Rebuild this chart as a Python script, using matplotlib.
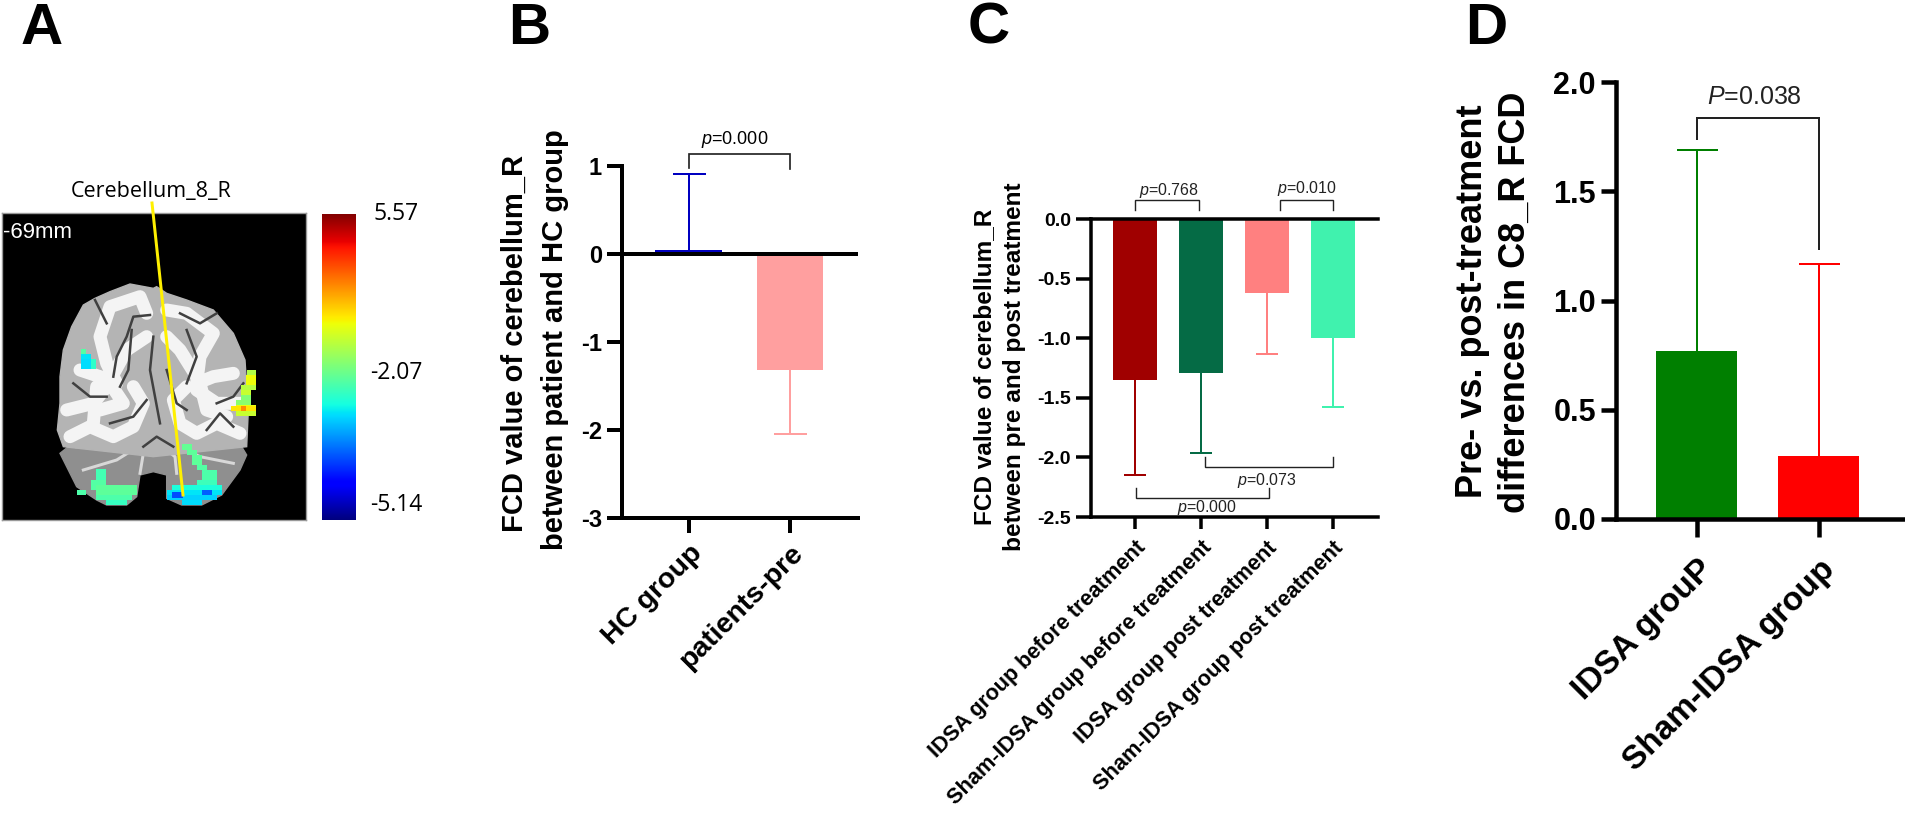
import numpy as np
import matplotlib
matplotlib.use("Agg")
import matplotlib.pyplot as plt
from matplotlib.patches import Polygon, Rectangle

plt.rcParams['font.family'] = ['Liberation Sans', 'DejaVu Sans']
plt.rcParams['mathtext.fontset'] = 'custom'
plt.rcParams['mathtext.rm'] = 'Liberation Sans'
plt.rcParams['mathtext.it'] = 'Liberation Sans:italic'

W, H = 1905, 818

# panel B
b_labels = ["HC group", "patients-pre"]
b_values = [0.04, -1.32]
b_err_ends = [0.91, -2.05]
b_colors = ["#0000C0", "#FF9F9F"]
b_ticks = [1, 0, -1, -2, -3]

# panel C
c_labels = ["IDSA group before treatment", "Sham-IDSA group before treatment",
            "IDSA group post treatment", "Sham-IDSA group post treatment"]
c_values = [-1.35, -1.29, -0.62, -1.00]
c_err_ends = [-2.15, -1.96, -1.13, -1.58]
c_colors = ["#A00000", "#056B45", "#FF8080", "#40F2AE"]
c_ticks = [0.0, -0.5, -1.0, -1.5, -2.0, -2.5]

# panel D
d_labels = ["IDSA grouP", "Sham-IDSA group"]
d_values = [0.77, 0.29]
d_err_ends = [1.69, 1.167]
d_colors = ["#007F00", "#FF0000"]
d_ticks = [0.0, 0.5, 1.0, 1.5, 2.0]

# panel A, colour scale
scale_labels = ["5.57", "-2.07", "-5.14"]
scale_min, scale_max = -5.14, 5.57

# brain shapes (crop px: upper part z6, lower part z9)
cerebrum = [(460,355),(390,342),(330,365),(285,385),(250,405),(215,470),(190,540),(180,620),(180,700),
            (172,780),(190,830),(460,860),(740,830),(745,720),(740,650),(735,570),(700,490),(640,420),
            (560,390),(500,370),(470,350)]
white_lines = [
    [(240,600),(300,620),(350,640),(320,580),(300,500),(330,410),(420,380),(440,430)],
    [(200,720),(280,700),(320,650)],
    [(330,630),(380,540),(440,500)],
    [(210,800),(270,770),(340,800),(400,770),(430,700),(400,650)],
    [(290,650),(280,760)],
    [(330,640),(370,700),(300,720)],
    [(700,610),(640,620),(590,640),(600,560),(640,490),(560,430),(500,420)],
    [(730,700),(650,700),(590,660)],
    [(590,620),(540,540),(500,500)],
    [(720,790),(650,760),(590,790),(540,760),(520,690),(560,650)],
    [(600,640),(620,720),(680,740)],
]
dark_lines = [
    [(285,390),(320,460)],
    [(450,435),(400,440),(380,500),(350,560),(340,620)],
    [(395,480),(385,600),(360,650)],
    [(460,500),(450,600),(480,760)],
    [(220,640),(270,680),(320,680)],
    [(330,760),(400,740),(440,690)],
    [(540,430),(600,460),(650,430)],
    [(560,480),(590,560),(560,640)],
    [(500,600),(530,700),(560,720)],
    [(650,700),(700,680),(730,640)],
    [(620,780),(660,730),(700,770)],
    [(430,830),(470,800),(520,830)],
]
cerebellum = [(190,98),(230,120),(180,160),(190,180),(205,210),(230,260),(290,300),(320,315),(380,315),
              (410,290),(420,225),(460,215),(500,225),(500,295),(545,315),(605,315),(665,285),(720,210),
              (740,165),(710,115),(660,95),(520,60),(400,60)]
cerebellum_light = [
    [(230,140),(330,120),(440,130)],
    [(250,210),(350,180),(430,130)],
    [(660,125),(560,120),(480,130)],
    [(700,190),(600,170),(520,130)],
    [(420,220),(430,160),(480,135),(525,170),(530,220)],
]
# activation cells: crop x0, x1, y0, y1, value
blobs_upper = [
    (242,257,538,553,-0.3),(242,272,553,568,-1.4),(242,287,568,598,-1.5),(272,287,568,598,-0.8),
    (740,768,600,630,0.9),(738,768,615,645,1.7),(723,768,645,660,1.0),(723,752,660,675,1.2),
    (723,752,675,690,0.3),(708,752,690,705,0.4),(708,768,705,720,1.6),(692,768,707,722,2.0),
    (708,768,722,737,1.2),(722,738,707,722,3.0),
]
blobs_lower = [
    (288,318,208,240,-0.5),(272,318,240,270,-0.3),(288,410,255,285,-0.2),(288,395,285,300,-0.4),
    (318,380,300,315,-0.7),(232,258,270,285,-0.4),
    (545,575,133,150,-0.1),(560,590,150,165,-0.2),(575,605,165,195,-0.2),(590,620,195,210,-0.3),
    (605,650,210,240,-0.4),(590,650,240,255,-0.6),(515,665,255,270,-1.0),(500,665,270,285,-1.4),
    (500,650,285,300,-1.6),(545,605,300,315,-1.5),(515,550,275,295,-3.0),(605,635,270,285,-2.8),
]


def ax_px(left, top, right, bottom):
    return fig.add_axes([left / W, 1 - bottom / H, (right - left) / W, (bottom - top) / H])


def px(n):
    return n * 0.72


def z6(pts):
    return [(x / 3, 170 + y / 3) for x, y in pts]


def z9(pts):
    return [(x / 3, 400 + y / 3) for x, y in pts]


def bracket(ax, x0, x1, y, y0_end, y1_end, lw):
    ax.plot([x0, x0, x1, x1], [y0_end, y, y, y1_end], color="#222222", lw=lw, clip_on=False,
            solid_joinstyle="miter", zorder=4)


def bar_panel(ax, values, ends, colors, labels, ticks, ylim, xlim, width, tick_fs, label_fs, cap, fmt, lw_ax,
              xtick_len, pad):
    xs = np.arange(len(values))
    ax.bar(xs, values, width=width, color=colors, zorder=2)
    for x, v, e, c in zip(xs, values, ends, colors):
        # whisker goes one way only, so no cap at the bar end
        ax.plot([x, x], [v, e], color=c, lw=px(2), zorder=3)
        ax.plot([x], [e], marker="_", ms=cap, mew=px(2), color=c, zorder=3)
    ax.set_xlim(*xlim)
    ax.set_ylim(*ylim)
    for s in ["top", "right"]:
        ax.spines[s].set_visible(False)
    for s in ["left", "bottom"]:
        ax.spines[s].set_linewidth(lw_ax)
    ax.set_yticks(ticks)
    ax.set_yticklabels([fmt % t for t in ticks], fontsize=tick_fs, fontweight="bold")
    ax.tick_params(axis="y", length=px(15), width=lw_ax, pad=px(5))
    ax.set_xticks(xs)
    ax.set_xticklabels(labels, fontsize=label_fs, fontweight="bold", rotation=45, ha="right", va="top",
                       rotation_mode="anchor")
    ax.tick_params(axis="x", length=px(xtick_len), width=lw_ax, pad=pad)
    ax.patch.set_alpha(0)


fig = plt.figure(figsize=(W / 100, H / 100), dpi=100)

# panel A
ax = ax_px(2, 213, 306, 520)
ax.set_facecolor("black")
ax.set_xlim(2, 306)
ax.set_ylim(520, 213)
ax.set_xticks([])
ax.set_yticks([])
for s in ax.spines.values():
    s.set_color("#999999")
    s.set_linewidth(1)
ax.add_patch(Polygon(z9(cerebellum), closed=True, color="#8F8F8F", zorder=1))
for line in cerebellum_light:
    p = np.array(z9(line))
    ax.plot(p[:, 0], p[:, 1], color="#D8D8D8", lw=px(3), zorder=1.5)
ax.add_patch(Polygon(z6(cerebrum), closed=True, color="#B4B4B4", zorder=2))
for line in white_lines:
    p = np.array(z6(line))
    ax.plot(p[:, 0], p[:, 1], color="#F4F4F4", lw=px(13), zorder=2.2, solid_capstyle="round")
for line in dark_lines:
    p = np.array(z6(line))
    ax.plot(p[:, 0], p[:, 1], color="#404040", lw=px(2.5), zorder=2.4)
cmap = plt.get_cmap("jet")
for conv, blobs in [(z6, blobs_upper), (z9, blobs_lower)]:
    for x0, x1, y0, y1, v in blobs:
        (a, b), (c, d) = conv([(x0, y0), (x1, y1)])
        frac = (v - scale_min) / (scale_max - scale_min)
        ax.add_patch(Rectangle((a, b), c - a, d - b, color=cmap(frac), lw=0, zorder=3))
ax.plot([152, 183], [203, 495], color="#FFF000", lw=px(3), clip_on=False, zorder=5)
ax.text(3, 232, "-69mm", color="white", fontsize=16, va="center", ha="left")
fig.text(151 / W, 1 - 192 / H, "Cerebellum_8_R", fontsize=15.5, ha="center", va="center", family="Open Sans")

cax = ax_px(322, 214, 356, 520)
cax.imshow(np.linspace(1, 0, 256).reshape(-1, 1), aspect="auto", cmap="jet")
cax.set_xticks([])
cax.set_yticks([])
for s in cax.spines.values():
    s.set_visible(False)
for lab, yy in zip(scale_labels, [214, 373, 505]):
    fig.text(396 / W, 1 - yy / H, lab, fontsize=16.5, ha="center", va="center", family="Open Sans")

# panel B
ax = ax_px(622, 166, 858, 518)
bar_panel(ax, b_values, b_err_ends, b_colors, b_labels, b_ticks, (-3, 1), (-0.663, 1.673), 0.663, 17, 20.5,
          px(33), "%d", px(4), 15, 5)
ax.axhline(0, color="black", lw=px(4), zorder=2.5)
bracket(ax, 0, 1, 1.137, 0.98, 0.97, px(1.7))
ax.text(0.455, 1.296, r"$\mathit{p}$=0.000", fontsize=13, ha="center", va="center")
fig.text(515 / W, 1 - 343 / H, "FCD value of cerebellum_R", rotation=90, fontsize=21, fontweight="bold",
         ha="center", va="center")
fig.text(555 / W, 1 - 340 / H, "between patient and HC group", rotation=90, fontsize=21, fontweight="bold",
         ha="center", va="center")

# panel C
ax = ax_px(1091, 219.3, 1378, 517)
bar_panel(ax, c_values, c_err_ends, c_colors, c_labels, c_ticks, (-2.5, 0), (-0.667, 3.68), 0.667, 14, 15.7,
          px(22), "%.1f", px(3.5), 12, 6)
ax.plot([-0.667, 3.68], [0, 0], color="black", lw=px(3.5), zorder=2.5, clip_on=False)
bracket(ax, 0, 0.97, 0.163, 0.078, 0.078, px(1.4))
bracket(ax, 2.197, 3, 0.163, 0.078, 0.078, px(1.4))
bracket(ax, 1.06, 3, -2.08, -2.0, -2.0, px(1.4))
bracket(ax, 0.015, 2.03, -2.34, -2.26, -2.26, px(1.4))
for x, y, t in [(0.51, 0.24, "0.768"), (2.6, 0.255, "0.010"), (2.0, -2.19, "0.073"), (1.09, -2.42, "0.000")]:
    ax.text(x, y, r"$\mathit{p}$=" + t, fontsize=11.5, ha="center", va="center", color="#222222")
fig.text(985 / W, 1 - 367 / H, "FCD value of cerebellum_R", rotation=90, fontsize=17.6, fontweight="bold",
         ha="center", va="center")
fig.text(1015 / W, 1 - 367 / H, "between pre and post treatment", rotation=90, fontsize=17.6, fontweight="bold",
         ha="center", va="center")

# panel D
ax = ax_px(1616, 82, 1903, 519)
bar_panel(ax, d_values, d_err_ends, d_colors, d_labels, d_ticks, (0, 2), (-0.664, 1.689), 0.664, 22, 24,
          px(41), "%.1f", px(4.5), 18, 12)
bracket(ax, 0, 1, 1.835, 1.74, 1.236, px(2))
ax.text(0.467, 1.93, r"$\mathit{P}$=0.038", fontsize=18, ha="center", va="center", color="#222222")
fig.text(1472 / W, 1 - 301 / H, "Pre- vs. post-treatment", rotation=90, fontsize=26, fontweight="bold",
         ha="center", va="center")
fig.text(1515 / W, 1 - 302 / H, "differences in C8_R FCD", rotation=90, fontsize=26, fontweight="bold",
         ha="center", va="center")

# panel letters
for lab, x in zip("ABCD", [42, 529, 989, 1486]):
    fig.text(x / W, 1 - 29 / H, lab, fontsize=42, fontweight="bold", ha="center", va="center")

fig.savefig("out.png", dpi=100)
